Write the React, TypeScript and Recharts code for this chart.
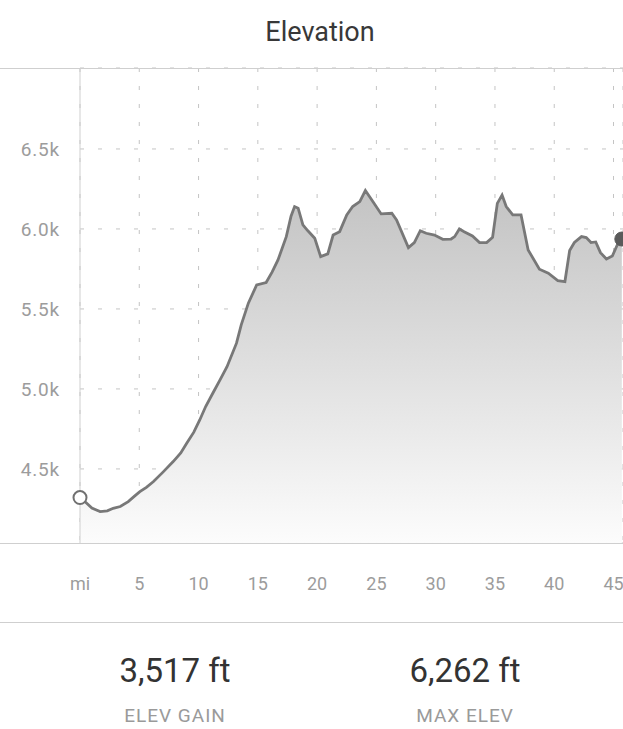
import React from 'react';
import { AreaChart, Area, XAxis, YAxis, CartesianGrid, ReferenceDot } from 'recharts';

const miles = [0, 0.5, 1.0, 1.7, 2.3, 2.8, 3.4, 4.07, 4.6, 5.05, 5.6, 6.2, 7.0, 7.86, 8.5, 9.0, 9.6, 10.1, 10.6, 11.2, 11.8, 12.4, 13.2, 13.6, 14.2, 14.9, 15.7, 16.2, 16.7, 17.4, 17.8, 18.1, 18.4, 18.8, 19.2, 19.8, 20.3, 20.9, 21.35, 21.9, 22.5, 23.0, 23.6, 24.07, 24.7, 25.4, 26.3, 26.7, 27.7, 28.2, 28.7, 29.2, 29.9, 30.6, 31.3, 31.6, 32.0, 32.4, 33.1, 33.7, 34.3, 34.8, 35.2, 35.6, 35.95, 36.5, 37.2, 37.8, 38.75, 39.5, 40.3, 40.9, 41.3, 41.7, 42.3, 42.7, 43.1, 43.5, 43.9, 44.4, 44.9, 45.5, 45.7];
const elevations = [4321, 4290, 4255, 4233, 4238, 4254, 4265, 4296, 4330, 4358, 4385, 4421, 4480, 4546, 4600, 4660, 4730, 4806, 4890, 4973, 5055, 5139, 5286, 5400, 5536, 5650, 5665, 5730, 5806, 5952, 6080, 6140, 6130, 6025, 5990, 5942, 5827, 5844, 5962, 5983, 6088, 6140, 6171, 6240, 6171, 6094, 6098, 6056, 5883, 5915, 5989, 5973, 5962, 5935, 5937, 5952, 6000, 5983, 5956, 5915, 5915, 5948, 6160, 6212, 6140, 6088, 6088, 5869, 5748, 5723, 5677, 5671, 5865, 5915, 5952, 5946, 5915, 5919, 5852, 5812, 5831, 5931, 5937];
const xTicks = [0, 5, 10, 15, 20, 25, 30, 35, 40, 45];
const yTicks = [4500, 5000, 5500, 6000, 6500];
const statValues = ['3,517 ft', '6,262 ft'];
const statLabels = ['ELEV GAIN', 'MAX ELEV'];

const data = miles.map((m, i) => ({ mile: m, elev: elevations[i] }));
const first = data[0];
const last = data[data.length - 1];

const FONT = 'Roboto, "Noto Sans", sans-serif';

export default function App() {
  return (
    <div style={{ position: 'absolute', left: 0, top: 0, width: 623, height: 729, overflow: 'hidden', background: '#fff', fontFamily: FONT }}>
      <div style={{ position: 'absolute', left: 320, top: 15, transform: 'translateX(-50%)', fontSize: 27, color: '#383838', whiteSpace: 'nowrap', lineHeight: '34px' }}>Elevation</div>
      <div style={{ position: 'absolute', left: 0, top: 0 }}>
        <AreaChart width={623} height={620} data={data} margin={{ top: 68, right: 0, bottom: 0, left: 0 }}>
          <defs>
            <linearGradient id="elevFill" x1="0" y1="0" x2="0" y2="1">
              <stop offset="0%" stopColor="#c3c3c3" />
              <stop offset="100%" stopColor="#fcfcfc" />
            </linearGradient>
          </defs>
          <CartesianGrid stroke="#c4c4c4" strokeDasharray="4 14" strokeWidth={1} />
          <XAxis
            dataKey="mile"
            type="number"
            domain={[0, 45.8]}
            ticks={xTicks}
            interval={0}
            height={77}
            axisLine={false}
            tickLine={false}
            tickMargin={28}
            tickFormatter={(v: number) => (v === 0 ? 'mi' : String(v))}
            tick={{ fill: '#9c9c9c', fontSize: 18, fontFamily: FONT }}
          />
          <YAxis
            type="number"
            domain={[4037, 7006]}
            ticks={yTicks}
            width={80}
            axisLine={{ stroke: '#cfcfcf' }}
            tickLine={false}
            tickMargin={14}
            tickFormatter={(v: number) => (v / 1000).toFixed(1) + 'k'}
            tick={{ fill: '#9c9c9c', fontSize: 19, fontFamily: FONT, letterSpacing: 0.8 }}
            allowDataOverflow
          />
          <Area
            type="linear"
            dataKey="elev"
            stroke="#787878"
            strokeWidth={2.8}
            fill="url(#elevFill)"
            fillOpacity={1}
            isAnimationActive={false}
            dot={false}
            activeDot={false}
          />
          <ReferenceDot x={first.mile} y={first.elev} r={6.5} fill="#fff" stroke="#707070" strokeWidth={2} />
          <ReferenceDot x={last.mile} y={last.elev} r={7} fill="#5a5a5a" stroke="#5a5a5a" strokeWidth={1} />
        </AreaChart>
      </div>
      <div style={{ position: 'absolute', left: 0, top: 68, width: 623, height: 1, background: '#cfcfcf' }} />
      <div style={{ position: 'absolute', left: 0, top: 543, width: 623, height: 1, background: '#cfcfcf' }} />
      <div style={{ position: 'absolute', left: 0, top: 622, width: 623, height: 1, background: '#cfcfcf' }} />
      {statValues.map((v, i) => (
        <div key={v} style={{ position: 'absolute', left: i === 0 ? 175 : 465, top: 651, transform: 'translateX(-50%)', textAlign: 'center', whiteSpace: 'nowrap' }}>
          <div style={{ fontSize: 33, color: '#333', lineHeight: '40px' }}>{v}</div>
          <div style={{ fontSize: 19, color: '#9a9a9a', lineHeight: '22px', marginTop: 14, letterSpacing: 1 }}>{statLabels[i]}</div>
        </div>
      ))}
    </div>
  );
}
